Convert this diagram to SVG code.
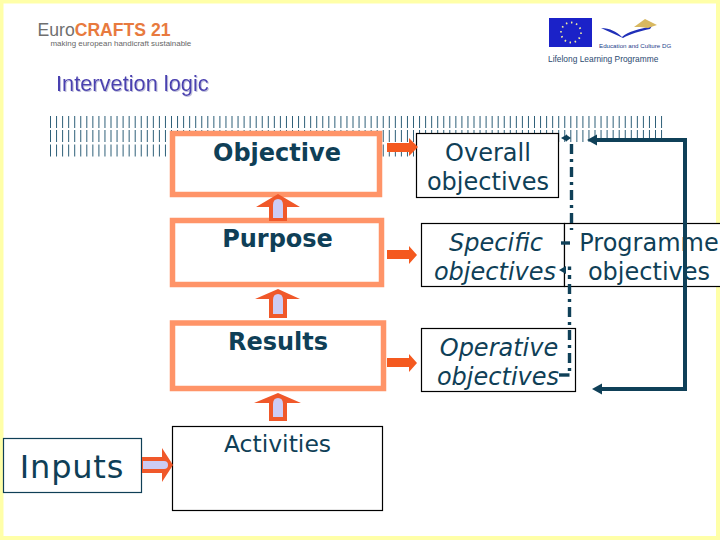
<svg xmlns="http://www.w3.org/2000/svg" width="720" height="540" viewBox="0 0 720 540">
<style>
text{font-family:"DejaVu Sans",Verdana,sans-serif;fill:#0f3f57;text-anchor:middle}
.s{font-size:24px}
.b{font-size:24px;font-weight:bold}
.i{font-style:italic}
.box{fill:#fff;stroke:#000;stroke-width:1.2}
.or{fill:#fff;stroke:#ff9468;stroke-width:5.5}
.ar{fill:#f4591f}
.ua{fill:#f0582a}
.lil{fill:#ccccf5}
.tick{stroke:#2f6079;stroke-width:12;stroke-dasharray:1 5.05;fill:none}
.dk{fill:none;stroke:#0f4058;stroke-width:4}
.dash{fill:none;stroke:#0f4058;stroke-width:3.400;stroke-dasharray:10 5 3 5}
.hook{fill:none;stroke:#0f4058;stroke-width:3.400}
.head{fill:#0f4058}
.sans{font-family:"Liberation Sans",Arial,sans-serif;text-anchor:start}
</style>
<defs>
<filter id="soft" x="-5%" y="-20%" width="110%" height="140%"><feDropShadow dx="1" dy="1" stdDeviation="0.300" flood-color="#c0c0dc"/></filter>
</defs>
<rect x="0" y="0" width="720" height="540" fill="#ffffa8"/>
<rect x="3.500" y="3.500" width="712.500" height="532.500" fill="#fff"/>

<g id="logo-eurocrafts">
<text class="sans" x="37.500" y="36" style="font-size:17.600px;fill:#6f6f6f">Euro<tspan style="font-weight:bold;fill:#e87a3e">CRAFTS 21</tspan></text>
<text class="sans" x="50.500" y="45.500" style="font-size:7.950px;fill:#666">making european handicraft sustainable</text>
</g>
<g id="logo-eu">
<rect x="549" y="18" width="43" height="29" fill="#1b22c8"/>
<circle cx="571" cy="32.500" r="10" fill="none" stroke="#f4f0a0" stroke-width="1.800" stroke-dasharray="1.500 3.700"/>
<path d="M601 28 C610 28 617 32 622 37 C628 31 640 29 652 26 L650 29 C640 31 630 34 623 38 C616 35 608 31 601 28Z" fill="#2030b8"/>
<path d="M634 27 L645 19 L657 25 L648 28 L640 27Z" fill="#d8b860"/>
<text class="sans" x="599" y="47.500" style="font-size:6.200px;fill:#24408a">Education and Culture DG</text>
<text class="sans" x="548" y="62" style="font-size:8.400px;fill:#2b4a70">Lifelong Learning Programme</text>
</g>

<text class="sans" x="56" y="91" filter="url(#soft)" style="font-size:21.800px;fill:#4a3fb0">Intervetion logic</text>

<g id="ticks">
<path class="tick" d="M50 122H663"/>
<path class="tick" d="M50 136H663"/>
<path class="tick" d="M50 150.500H416"/>
</g>

<g id="node-objective"><rect class="or" x="172.500" y="133.500" width="207" height="61"/><text class="b" x="277" y="160.500">Objective</text></g>
<g id="node-purpose"><rect class="or" x="172.500" y="220.500" width="209" height="64"/><text class="b" x="277.500" y="246.500">Purpose</text></g>
<g id="node-results"><rect class="or" x="172.500" y="323" width="211" height="65.500"/><text class="b" x="278" y="349.500">Results</text></g>
<g id="node-activities"><rect class="box" x="172.500" y="426.500" width="210" height="84"/><text x="277.500" y="452" style="font-size:23.500px">Activities</text></g>
<g id="node-inputs"><rect x="3.500" y="438.500" width="138" height="54" fill="#fff" stroke="#0f3f57" stroke-width="1.200"/><text x="72" y="478" style="font-size:32px;letter-spacing:0.800px">Inputs</text></g>
<g id="node-overall"><rect class="box" x="416.500" y="133.500" width="142" height="64"/><text class="s" x="488" y="161">Overall</text><text class="s" x="488" y="190">objectives</text></g>
<g id="node-specific"><rect class="box" x="421.500" y="223.500" width="143" height="63"/><text class="s i" x="496" y="251">Specific</text><text class="s i" x="495" y="280">objectives</text></g>
<g id="node-programme"><rect class="box" x="564.500" y="223.500" width="160" height="63"/><text class="s" x="649" y="251">Programme</text><text class="s" x="649" y="280">objectives</text></g>
<g id="node-operative"><rect class="box" x="421.500" y="328.500" width="154" height="63"/><text class="s i" x="499" y="356">Operative</text><text class="s i" x="498" y="385">objectives</text></g>

<g id="connectors">
<path class="ar" d="M387 143H409V138L418 147L409 156V152H387Z"/>
<path class="ar" d="M387 250H409V246L417 255L409 264V259H387Z"/>
<path class="ar" d="M387 358H409V354L417 363L409 372V367H387Z"/>
<path class="ua" d="M269 221V207H256L278 194L300 207H287V221Z"/>
<path class="lil" d="M273 218V205Q273 199 278 199Q283 199 283 205V218Z"/>
<path class="ua" d="M269 318V299H255L278 289L300 299H287V318Z"/>
<path class="lil" d="M273 314V300Q273 294 278 294Q283 294 283 300V314Z"/>
<path class="ua" d="M269 421V403H254L278 393L301 403H287V421Z"/>
<path class="lil" d="M273 417V404Q273 398 278 398Q283 398 283 404V417Z"/>
<path class="ua" d="M142 457H162V448L173 465L162 482V473H142Z"/>
<path class="lil" d="M143 461H164Q168 461 168 465Q168 469 164 469H143Z"/>
<path class="dk" d="M596 140H685V389H602"/>
<path class="head" d="M587 140L597 134.500V145.500Z"/>
<path class="head" d="M592 389L602 383.500V394.500Z"/>
<path class="dash" d="M571.500 144V230"/>
<path class="hook" d="M561 243H570"/>
<path class="dash" d="M569.500 284V374"/>
<path class="hook" d="M559 375H569.500"/>
<path class="head" d="M561 138L567 134.500V141.500Z"/>
<path class="head" d="M571 138L566 134.500V141.500Z"/>
<path class="head" d="M559 270L566 266V274Z"/>
<path class="hook" d="M569.500 266.500V270M569.500 275V279"/>
</g>
</svg>
